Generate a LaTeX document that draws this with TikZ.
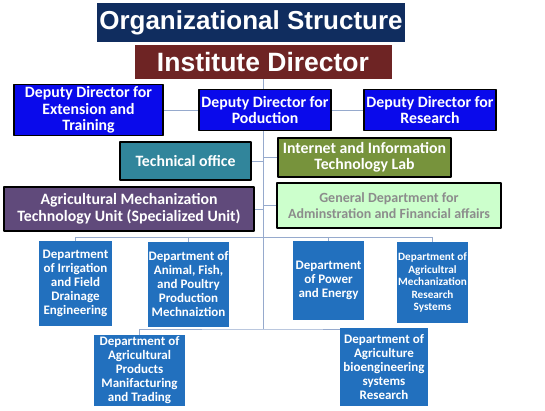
\documentclass[tikz,border=0pt]{standalone}
\usepackage{fontspec}
\setmainfont{Carlito}
\newfontfamily\heavy{Liberation Sans}
\usetikzlibrary{backgrounds}
\definecolor{navy}{RGB}{16,45,95}
\definecolor{maroon}{RGB}{110,36,36}
\definecolor{depblue}{RGB}{10,10,235}
\definecolor{teal}{RGB}{49,133,155}
\definecolor{olive}{RGB}{119,147,60}
\definecolor{plum}{RGB}{96,74,123}
\definecolor{mint}{RGB}{204,255,204}
\definecolor{deptblue}{RGB}{34,112,190}
\definecolor{linkblue}{RGB}{150,170,205}
\begin{document}
\begin{tikzpicture}[x=1pt,y=-1pt,line join=round,line cap=round]
	\tikzset{box/.style={draw=black,line width=1.3pt,text=white,align=center,inner sep=1pt,font=\fontsize{15.8}{16.5}\selectfont\bfseries},
	dept/.style={fill=deptblue,text=white,align=center,inner sep=1pt,font=\fontsize{13}{14}\selectfont\bfseries},
	head/.style={text=white,inner sep=0pt,font=\heavy\bfseries},
	link/.style={draw=linkblue,line width=0.8pt}}
	\def\trunk{263}
	\useasboundingbox(0,0)rectangle(545,411);
	\node[head,fill=navy,minimum width=308pt,minimum height=39pt,font=\heavy\fontsize{26}{26}\selectfont\bfseries](title)at(251,22.5){Organizational Structure};
	\node[head,fill=maroon,minimum width=257pt,minimum height=34pt,font=\heavy\fontsize{26.5}{26.5}\selectfont\bfseries](inst)at(\trunk,62){Institute Director};
	\node[box,fill=depblue,minimum width=149pt,minimum height=51pt](ext)at(88.5,110){Deputy Director for\\Extension and\\Training};
	\node[box,fill=depblue,minimum width=132pt,minimum height=41pt](pod)at(265,110){Deputy Director for\\Poduction};
	\node[box,fill=depblue,minimum width=132pt,minimum height=41pt](res)at(430,110){Deputy Director for\\Research};
	\node[box,fill=teal,minimum width=131pt,minimum height=38pt](tech)at(185.5,161){Technical office};
	\node[box,fill=olive,minimum width=173pt,minimum height=39pt](net)at(364.5,157.5){Internet and Information\\Technology Lab};
	\node[box,fill=plum,minimum width=250pt,minimum height=44pt](agm)at(129,209){Agricultural Mechanization\\Technology Unit (Specialized Unit)};
	\node[box,fill=mint,text=black!45,minimum width=224pt,minimum height=45pt,font=\fontsize{14}{16}\selectfont\bfseries](gen)at(389,205.5){General Department for\\Adminstration and Financial affairs};
	\node[dept,minimum width=73pt,minimum height=85pt](irr)at(75.5,283.5){Department\\of Irrigation\\and Field\\Drainage\\Engineering};
	\node[dept,minimum width=81pt,minimum height=85pt](ani)at(188.5,284.5){Department of\\Animal, Fish,\\and Poultry\\Production\\Mechnaiztion};
	\node[dept,minimum width=71pt,minimum height=79pt](pow)at(328.5,280.5){Department\\of Power\\and Energy};
	\node[dept,minimum width=71pt,minimum height=81pt,font=\fontsize{11.2}{12.5}\selectfont\bfseries](amr)at(432.5,282.5){Department of\\Agricultral\\Mechanization\\Research\\Systems};
	\node[dept,minimum width=91pt,minimum height=71pt](prod)at(139.5,370.5){Department of\\Agricultural\\Products\\Manifacturing\\and Trading};
	\node[dept,minimum width=88pt,minimum height=78pt](bio)at(384,367){Department of\\Agriculture\\bioengineering\\systems\\Research};
	\begin{scope}[on background layer]
	\fill[white](0,0)rectangle(545,411);
	\draw[link](inst.south)--(\trunk,329)coordinate(low);
	\coordinate(bus)at(\trunk,237);
	\draw[link](ext.east)--(res.west);
	\draw[link](tech.east)--(tech.east-|inst.south)(net.west)--(net.west-|inst.south);
	\draw[link](agm.east)--(agm.east-|inst.south)(gen.west)--(gen.west-|inst.south);
	\draw[link](irr.north)--(irr.north|-bus)--(amr.north|-bus)--(amr.north);
	\draw[link](ani.north)--(ani.north|-bus)(pow.north)--(pow.north|-bus);
	\draw[link](prod.north)|-(low)-|(bio.north);
	\end{scope}
	\end{tikzpicture}
\end{document}
